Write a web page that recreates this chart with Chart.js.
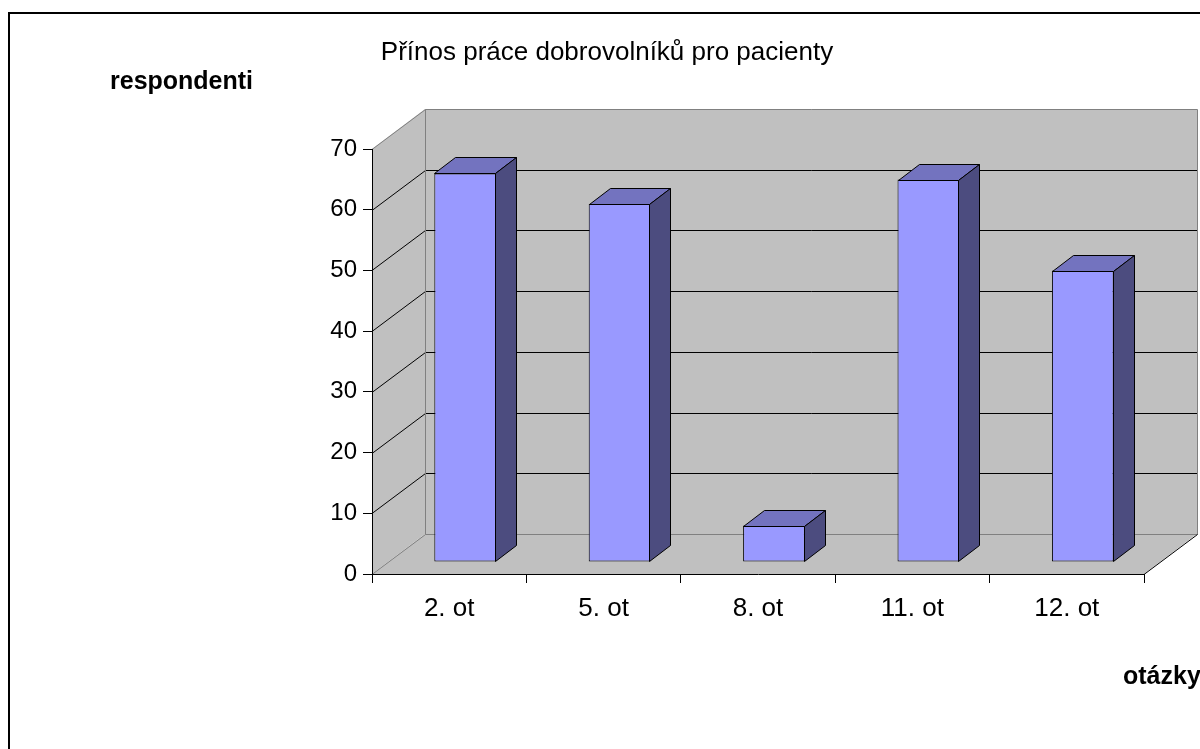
<!DOCTYPE html>
<html lang="cs">
<head>
<meta charset="utf-8">
<title>Přínos práce dobrovolníků pro pacienty</title>
<script src="https://cdn.jsdelivr.net/npm/chart.js@4.4.1/dist/chart.umd.min.js"></script>
<style>
    html, body { margin: 0; padding: 0; background: #fff; }
    #chart { display: block; }
</style>
</head>
<body>
<canvas id="chart" width="1200" height="749"></canvas>
<script>
// Survey data
var categories = ['2. ot', '5. ot', '8. ot', '11. ot', '12. ot'];
var respondents = [64, 59, 6, 63, 48];
var yMin = 0;
var yMax = 70;
var yStep = 10;

var chartTitle = 'Přínos práce dobrovolníků pro pacienty';
var yAxisTitle = 'respondenti';
var xAxisTitle = 'otázky';

// 3D box depth and where the bars sit inside it (fraction of depth)
var DEPTH_X = 53;
var DEPTH_Y = 40;
var BAR_FRONT = 0.3;
var BAR_BACK = 0.7;

var FONT = "'Liberation Sans', Arial, sans-serif";
var WALL_COLOR = '#c0c0c0';
var EDGE_COLOR = '#808080';
var FRONT_COLOR = '#9999ff';
var TOP_COLOR = '#7373bf';
var SIDE_COLOR = '#4c4c7f';

function polygon(ctx, pts, fill, stroke) {
    ctx.beginPath();
    ctx.moveTo(pts[0][0], pts[0][1]);
    for (var i = 1; i < pts.length; i++) {
        ctx.lineTo(pts[i][0], pts[i][1]);
    }
    ctx.closePath();
    if (fill) {
        ctx.fillStyle = fill;
        ctx.fill();
    }
    if (stroke) {
        ctx.strokeStyle = stroke;
        ctx.lineWidth = 1;
        ctx.stroke();
    }
}

function line(ctx, pts, color) {
    ctx.beginPath();
    ctx.moveTo(pts[0][0], pts[0][1]);
    for (var i = 1; i < pts.length; i++) {
        ctx.lineTo(pts[i][0], pts[i][1]);
    }
    ctx.strokeStyle = color;
    ctx.lineWidth = 1;
    ctx.stroke();
}

// Frame, walls, floor and wall gridlines
var wallsPlugin = {
    id: 'walls',
    beforeDraw: function(chart) {
        var ctx = chart.ctx;
        var a = chart.chartArea;
        var yScale = chart.scales.y;
        var L = a.left, R = a.right, T = a.top, B = a.bottom;

        ctx.save();
        ctx.fillStyle = '#fff';
        ctx.fillRect(0, 0, chart.width, chart.height);

        ctx.strokeStyle = '#000';
        ctx.lineWidth = 2;
        ctx.strokeRect(9, 13, chart.width + 20, chart.height + 20);

        // back wall, side wall, floor
        polygon(ctx, [[L + DEPTH_X, T - DEPTH_Y], [R + DEPTH_X, T - DEPTH_Y], [R + DEPTH_X, B - DEPTH_Y], [L + DEPTH_X, B - DEPTH_Y]], WALL_COLOR);
        polygon(ctx, [[L, T], [L + DEPTH_X, T - DEPTH_Y], [L + DEPTH_X, B - DEPTH_Y], [L, B]], WALL_COLOR);
        polygon(ctx, [[L, B], [L + DEPTH_X, B - DEPTH_Y], [R + DEPTH_X, B - DEPTH_Y], [R, B]], WALL_COLOR);

        // gridlines across side and back wall
        for (var v = yMin + yStep; v < yMax; v += yStep) {
            var py = Math.round(yScale.getPixelForValue(v)) + 0.5;
            line(ctx, [[L, py], [L + DEPTH_X + 0.5, py - DEPTH_Y], [R + DEPTH_X, py - DEPTH_Y]], '#000');
        }

        // box edges
        var t = T + 0.5, b = B + 0.5, bx = L + DEPTH_X + 0.5, rx = R + DEPTH_X + 0.5;
        line(ctx, [[L, t], [bx, t - DEPTH_Y], [rx, t - DEPTH_Y], [rx, b - DEPTH_Y]], EDGE_COLOR);
        line(ctx, [[bx, t - DEPTH_Y], [bx, b - DEPTH_Y], [rx, b - DEPTH_Y]], EDGE_COLOR);
        line(ctx, [[L, b], [bx, b - DEPTH_Y]], EDGE_COLOR);
        line(ctx, [[R, b], [rx, b - DEPTH_Y]], '#000');
        ctx.restore();
    }
};

// Push the bar fronts into the box and add top and side faces
var barsPlugin = {
    id: 'bars3d',
    beforeDatasetsDraw: function(chart) {
        chart.ctx.save();
        chart.ctx.translate(Math.round(DEPTH_X * BAR_FRONT), -Math.round(DEPTH_Y * BAR_FRONT));
    },
    afterDatasetsDraw: function(chart) {
        var ctx = chart.ctx;
        var dx = Math.round(DEPTH_X * (BAR_BACK - BAR_FRONT));
        var dy = Math.round(DEPTH_Y * (BAR_BACK - BAR_FRONT));
        var meta = chart.getDatasetMeta(0);
        ctx.lineJoin = 'miter';
        meta.data.forEach(function(bar) {
            var p = bar.getProps(['x', 'y', 'base', 'width'], true);
            var x0 = Math.round(p.x - p.width / 2) + 0.5;
            var x1 = Math.round(p.x + p.width / 2) - 0.5;
            var top = Math.round(p.y) + 0.5;
            var base = Math.round(p.base) - 0.5;
            polygon(ctx, [[x0, top], [x0 + dx, top - dy], [x1 + dx, top - dy], [x1, top]], TOP_COLOR, '#000');
            polygon(ctx, [[x1, top], [x1 + dx, top - dy], [x1 + dx, base - dy], [x1, base]], SIDE_COLOR, '#000');
        });
        ctx.restore();
    },
    afterDraw: function(chart) {
        var ctx = chart.ctx;
        ctx.save();
        ctx.fillStyle = '#000';
        ctx.textBaseline = 'alphabetic';

        ctx.font = '26px ' + FONT;
        ctx.textAlign = 'center';
        ctx.fillText(chartTitle, 607, 60);

        ctx.font = 'bold 25px ' + FONT;
        ctx.textAlign = 'left';
        ctx.fillText(yAxisTitle, 110, 89);
        ctx.fillText(xAxisTitle, 1123, 684);
        ctx.restore();
    }
};

document.addEventListener('DOMContentLoaded', function() {
    var ctx = document.getElementById('chart').getContext('2d');
    var chart = new Chart(ctx, {
        type: 'bar',
        data: {
            labels: categories,
            datasets: [{
                data: respondents,
                backgroundColor: FRONT_COLOR,
                borderColor: '#000',
                borderWidth: 1,
                borderSkipped: false,
                barPercentage: 0.4,
                categoryPercentage: 1.0
            }]
        },
        options: {
            responsive: false,
            animation: false,
            devicePixelRatio: 1,
            layout: {
                padding: { left: 0, top: 149, right: 56, bottom: 0 }
            },
            plugins: {
                legend: { display: false },
                title: { display: false },
                tooltip: { enabled: false }
            },
            scales: {
                x: {
                    offset: true,
                    grid: { offset: true, drawOnChartArea: false, tickLength: 9, color: '#000' },
                    border: { color: '#000', width: 1 },
                    ticks: { color: '#000', font: { family: FONT, size: 26 }, padding: 10, maxRotation: 0 },
                    afterFit: function(scale) { scale.height = 175; }
                },
                y: {
                    min: yMin,
                    max: yMax,
                    grid: { drawOnChartArea: false, tickLength: 9, color: '#000' },
                    border: { color: '#000', width: 1 },
                    ticks: { stepSize: yStep, color: '#000', font: { family: FONT, size: 24 }, padding: 6 },
                    afterFit: function(scale) { scale.width = 372; }
                }
            }
        },
        plugins: [wallsPlugin, barsPlugin]
    });
});
</script>
</body>
</html>
